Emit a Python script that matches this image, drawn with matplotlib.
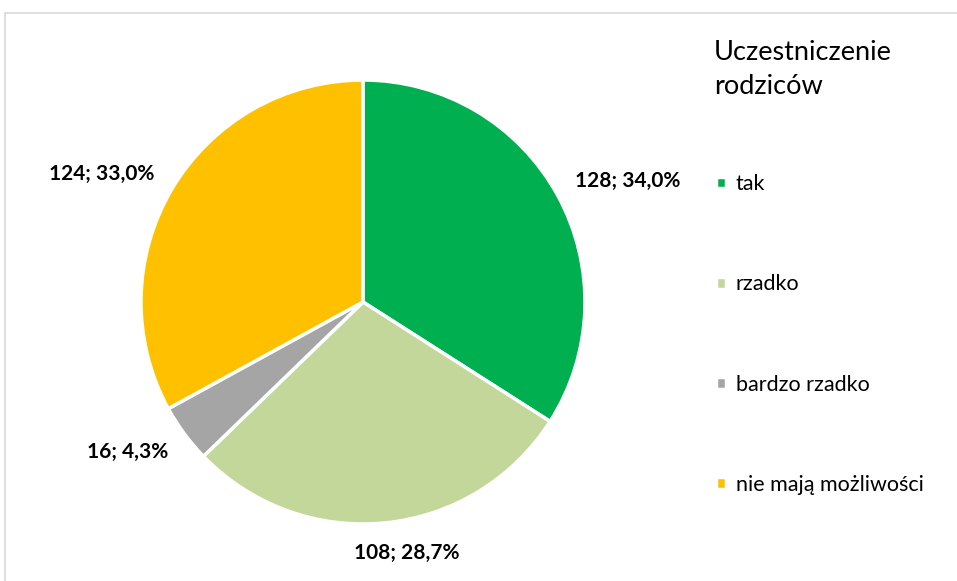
import matplotlib.pyplot as plt
from matplotlib.patches import Rectangle
import numpy as np

plt.rcParams['font.family'] = ['Lato', 'DejaVu Sans']

categories = ['tak', 'rzadko', 'bardzo rzadko', 'nie mają możliwości']
counts = [128, 108, 16, 124]
percents = ['34,0%', '28,7%', '4,3%', '33,0%']
colors = ['#00B050', '#C4D79B', '#A5A5A5', '#FFC000']
legend_title = 'Uczestniczenie\nrodziców'

W, H = 957, 581
fig = plt.figure(figsize=(W / 100, H / 100), dpi=100)

# chart frame (open to the right and bottom)
fig.patches.append(Rectangle((5 / W, -0.1), 1.2, (581 - 13) / H + 0.1,
                             transform=fig.transFigure, fill=False,
                             edgecolor='#D9D9D9', linewidth=1.2))

cx, cy, r = 363, 302, 222
ax = fig.add_axes([(cx - r) / W, (H - cy - r) / H, 2 * r / W, 2 * r / H])
wedges, _ = ax.pie(counts, colors=colors, startangle=90, counterclock=False,
                   wedgeprops=dict(edgecolor='white', linewidth=2.5))
ax.set_xlim(-1, 1)
ax.set_ylim(-1, 1)
ax.set_aspect('equal')
ax.axis('off')

# data labels just outside each slice
for w, n, p in zip(wedges, counts, percents):
    ang = np.deg2rad((w.theta1 + w.theta2) / 2)
    x, y = 1.09 * np.cos(ang), 1.09 * np.sin(ang)
    if abs(np.cos(ang)) < 0.3:
        ha, va = 'center', ('top' if y < 0 else 'bottom')
        x += 0.09
    else:
        ha, va = ('left' if x > 0 else 'right'), 'center'
        y += 0.02 if y > 0 else -0.03
    ax.text(x, y, f'{n}; {p}', ha=ha, va=va, fontsize=15, fontweight='bold',
            color='#000000', clip_on=False)

fig.text(714 / W, 1 - 69 / H, legend_title, fontsize=19.5, va='center',
         ha='left', linespacing=1.45, color='#000000')

leg = fig.legend(wedges, categories, loc='upper left',
                 bbox_to_anchor=(697 / W, 1 - 155 / H), frameon=False,
                 fontsize=15.5, handlelength=0.45, handleheight=0.45,
                 handletextpad=0.45, labelspacing=3.72)

fig.savefig('out.png', dpi=100)
